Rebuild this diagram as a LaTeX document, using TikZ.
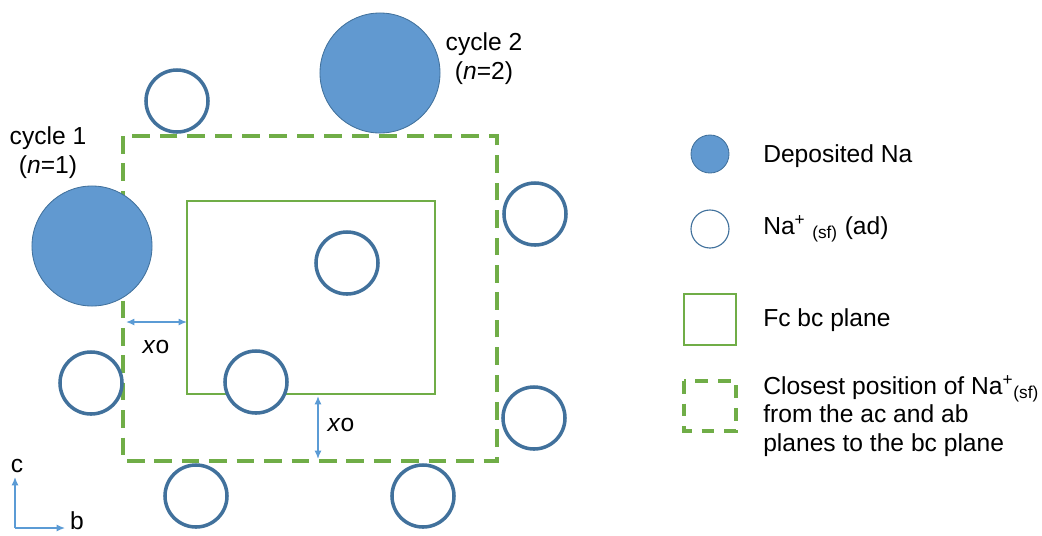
\documentclass[tikz,border=0pt]{standalone}
\usepackage{fontspec}
\setmainfont{Liberation Sans}
\usepackage{tikz}
\usetikzlibrary{arrows.meta}

\definecolor{naedge}{HTML}{41719C}
\definecolor{nafill}{HTML}{6199D0}
\definecolor{fcgreen}{HTML}{70AD47}
\definecolor{axblue}{HTML}{5B9BD5}

\begin{document}
\begin{tikzpicture}[x=0.025cm, y=-0.025cm,
    every node/.style={font=\fontsize{17.5}{20.5}\selectfont, inner sep=0pt},
    ion/.style={circle, draw=naedge, line width=2.5pt, fill=white, minimum size=1.55cm},
    deposit/.style={circle, draw=naedge, line width=0.6pt, fill=nafill, minimum size=3cm},
    bcplane/.style={draw=fcgreen, line width=1.8pt},
    closest/.style={draw=fcgreen, line width=2.8pt, dash pattern=on 12.5pt off 7pt},
    gap/.style={{Latex[length=6pt,width=5pt]}-{Latex[length=6pt,width=5pt]}, axblue, line width=1pt}]
\useasboundingbox (0,0) rectangle (1042,535);

% --- planes ---
\draw[closest] (123,136) rectangle (497,461);
\draw[bcplane] (187,201) rectangle (435,394);

% --- deposited Na ---
\node[deposit] (cyc1) at (92,246) {};
\node[deposit] (cyc2) at (380,73) {};
\node[align=center] (cyc1lbl) at (48,153) {cycle 1\\(\textit{n}=1)};
\node[align=center] (cyc2lbl) at (484,59) {cycle 2\\(\textit{n}=2)};

% --- adsorbed Na+ ---
\node[ion] (na1) at (177,101) {};
\node[ion] (na2) at (535,214) {};
\node[ion] (na3) at (347,263) {};
\node[ion] (na4) at (91,383) {};
\node[ion] (na5) at (256,382) {};
\node[ion] (na6) at (534,418) {};
\node[ion] (na7) at (196,496) {};
\node[ion] (na8) at (423,496) {};

% --- xo distances ---
\coordinate (gapL1) at (126,322);
\coordinate (gapL2) at (187,322);
\coordinate (gapB1) at (318,396);
\coordinate (gapB2) at (318,459);
\draw[gap] (gapL1) -- (gapL2);
\draw[gap] (gapB1) -- (gapB2);
\node (xoL) at (156,347) {\textit{x}o};
\node (xoB) at (341,425) {\textit{x}o};

% --- axes ---
\coordinate (orig) at (15,528);
\coordinate (axc) at (15,477);
\coordinate (axb) at (65,528);
\draw[-{Latex[length=6pt,width=5pt]}, axblue, line width=0.9pt] (orig) -- (axc);
\draw[-{Latex[length=6pt,width=5pt]}, axblue, line width=0.9pt] (orig) -- (axb);
\node (lblc) at (17,466) {c};
\node (lblb) at (77,521) {b};

% --- legend ---
\node[circle, draw=naedge, line width=0.6pt, fill=nafill, minimum size=0.95cm] (keydep) at (710,154) {};
\node[anchor=west] (txtdep) at (763,156) {Deposited Na};
\node[circle, draw=naedge, line width=0.8pt, minimum size=0.95cm] (keyion) at (710,229) {};
\node[anchor=west] (txtion) at (763,229) {Na\textsuperscript{+} \textsubscript{(sf)} (ad)};
\draw[bcplane] (684,294) rectangle (736,345);
\node[anchor=west] (txtfc) at (763,320) {Fc bc plane};
\draw[closest, dash pattern=on 9pt off 7pt] (684,381) rectangle (736,431);
\node[anchor=north west, align=left, font=\fontsize{17.5}{20.3}\selectfont] (txtcl) at (763,375)
    {Closest position of Na\textsuperscript{+}\textsubscript{(sf)}\\from the ac and ab\\planes to the bc plane};
\end{tikzpicture}
\end{document}
